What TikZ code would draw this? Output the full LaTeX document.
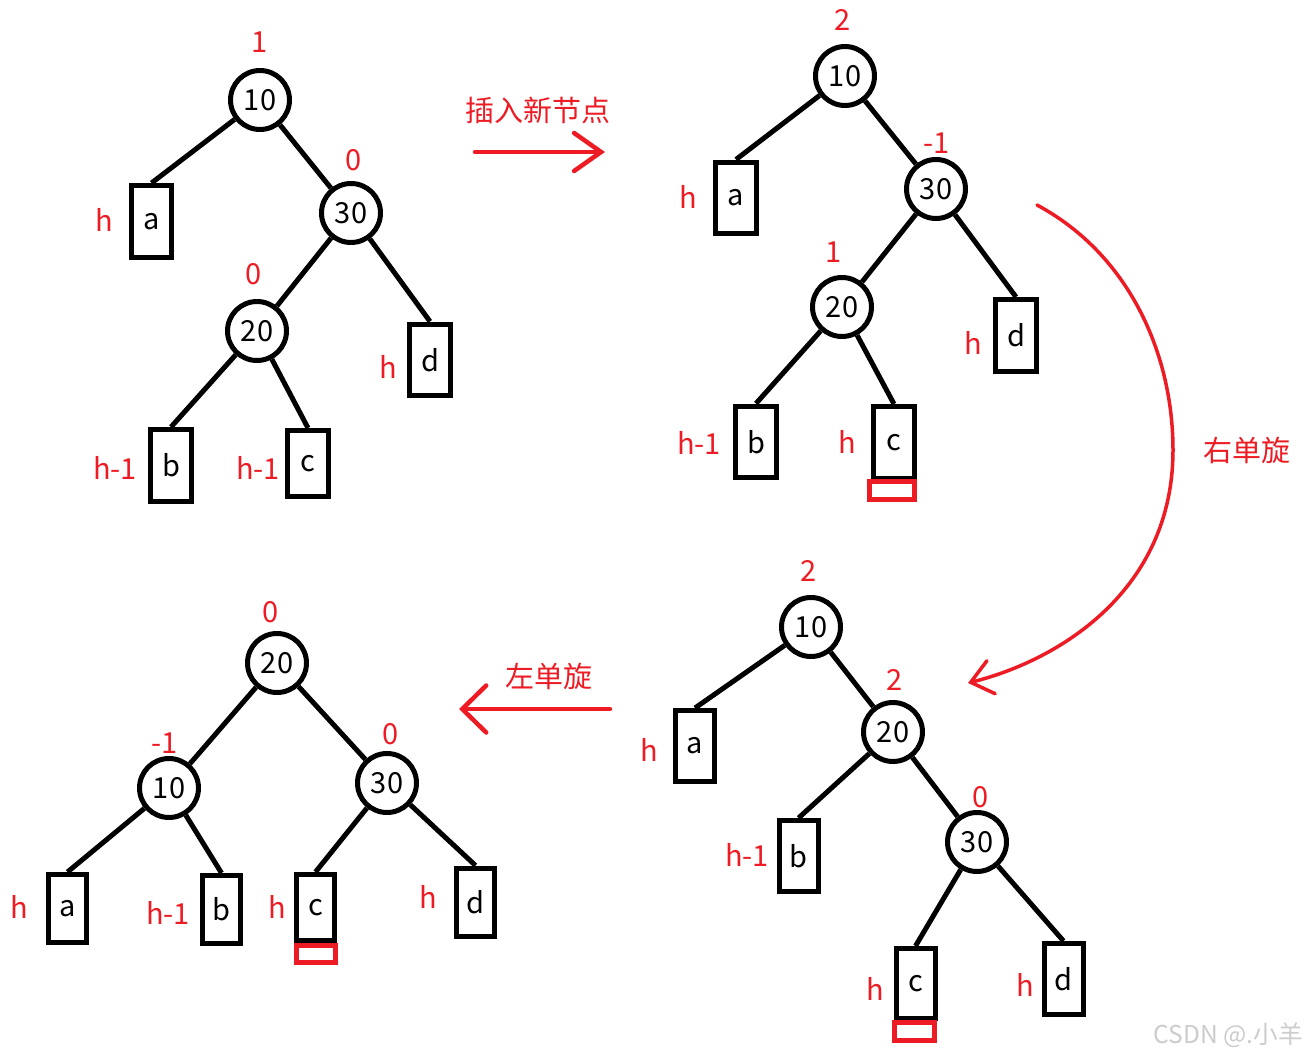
\documentclass[tikz,border=0pt]{standalone}
\usepackage{fontspec}
\setmainfont{Noto Sans CJK SC}
\usetikzlibrary{arrows.meta}
\definecolor{hred}{RGB}{237,28,36}
\tikzset{
  keynode/.style={
    shape = circle,
    draw,
    fill = white,
    line width = 0.1cm,
    minimum size = 1.18cm,
    inner sep = 0pt
  },
}
\tikzset{
  subtree/.style={
    shape = rectangle,
    draw,
    line width = 0.1cm,
    minimum width = 0.82cm,
    minimum height = 1.44cm,
    inner sep = 0pt
  },
}
\tikzset{
  added/.style={
    shape = rectangle,
    draw = hred,
    line width = 0.1cm,
    minimum width = 0.82cm,
    minimum height = 0.36cm,
    inner sep = 0pt
  },
  every picture/.style = {
    font=\fontsize{16.5}{19}\selectfont
  },
  bal/.style={
    text = hred,
    inner sep = 0pt
  },
  hgt/.style={
    text = hred,
    inner sep = 0pt
  },
  branch/.style={
    line width = 0.1cm
  },
  turn/.style={
    draw = hred,
    line width = 0.09cm,
    line cap = round
  }
}

\begin{document}
\begin{tikzpicture}[x=0.02cm, y=-0.02cm]
        \useasboundingbox (0,0) rectangle (1309,1058);

        % before insertion
        \node[keynode] (p10) at (260,100) {10};
        \node[keynode] (p30) at (351,213) {30};
        \node[keynode] (p20) at (257,331) {20};
        \node[subtree] (pa) at (151.5,221.5) {a};
        \node[subtree] (pb) at (171,465.5) {b};
        \node[subtree, minimum height=1.32cm] (pc) at (308,463.5) {c};
        \node[subtree] (pd) at (430,360) {d};
        \draw[branch] (p10) -- (pa.north);
        \draw[branch] (p10) -- (p30);
        \draw[branch] (p30) -- (p20);
        \draw[branch] (p30) -- (pd.north);
        \draw[branch] (p20) -- (pb.north);
        \draw[branch] (p20) -- (pc.north);
        \node[bal] (pf10) at (260,42) {1};
        \node[bal] (pf30) at (354,160) {0};
        \node[bal] (pf20) at (254,274) {0};
        \node[hgt] (pha) at (104,220) {h};
        \node[hgt] (phb) at (115,468) {h-1};
        \node[hgt] (phc) at (258,468) {h-1};
        \node[hgt] (phd) at (388,367) {h};

        % insert
        \node[text=hred] (instxt) at (538,110) {插入新节点};
        \coordinate (insL) at (475,152);
        \coordinate (insR) at (605,152);
        \draw[turn, -{Straight Barb[length=0.54cm, width=0.76cm, line cap=round]}] (insL) -- (insR);

        % after insertion
        \node[keynode] (q10) at (845,76) {10};
        \node[keynode] (q30) at (936,189) {30};
        \node[keynode] (q20) at (842,307) {20};
        \node[subtree] (qa) at (736,198) {a};
        \node[subtree] (qb) at (756,442) {b};
        \node[subtree] (qc) at (894,442.5) {c};
        \node[subtree] (qd) at (1016,335.5) {d};
        \node[added, minimum width=0.9cm] (qnew) at (892,490.5) {};
        \draw[branch] (q10) -- (qa.north);
        \draw[branch] (q10) -- (q30);
        \draw[branch] (q30) -- (q20);
        \draw[branch] (q30) -- (qd.north);
        \draw[branch] (q20) -- (qb.north);
        \draw[branch] (q20) -- (qc.north);
        \node[bal] (qf10) at (843,20) {2};
        \node[bal] (qf30) at (937,143) {-1};
        \node[bal] (qf20) at (834,252) {1};
        \node[hgt] (qha) at (688,197) {h};
        \node[hgt] (qhb) at (699,443) {h-1};
        \node[hgt] (qhc) at (847,442) {h};
        \node[hgt] (qhd) at (973,343) {h};

        % right rotation
        \node[text=hred] (rtxt) at (1247,450) {右单旋};
        \coordinate (rotA) at (1037,205);
        \coordinate (rotB) at (968,683);
        \draw[turn, line width=0.07cm, -{Straight Barb[length=0.42cm, width=0.68cm, line cap=round]}] (rotA) .. controls (1130,255) and (1173,355) .. (1173,450) .. controls (1173,590) and (1060,660) .. (rotB);

        % after right rotation
        \node[keynode] (r10) at (811,627) {10};
        \node[keynode] (r20) at (893,732) {20};
        \node[keynode] (r30) at (977,842) {30};
        \node[subtree, minimum width=0.78cm, minimum height=1.42cm] (ra) at (695,746) {a};
        \node[subtree, minimum width=0.78cm, minimum height=1.42cm] (rb) at (798.5,856) {b};
        \node[subtree, minimum width=0.78cm, minimum height=1.40cm] (rc) at (915.5,983.5) {c};
        \node[subtree, minimum width=0.78cm, minimum height=1.42cm] (rd) at (1063.5,979) {d};
        \node[added, minimum width=0.8cm] (rnew) at (914.5,1031.5) {};
        \draw[branch] (r10) -- (ra.north);
        \draw[branch] (r10) -- (r20);
        \draw[branch] (r20) -- (rb.north);
        \draw[branch] (r20) -- (r30);
        \draw[branch] (r30) -- (rc.north);
        \draw[branch] (r30) -- (rd.north);
        \node[bal] (rf10) at (809,571) {2};
        \node[bal] (rf20) at (895,680) {2};
        \node[bal] (rf30) at (981,797) {0};
        \node[hgt] (rha) at (649,750) {h};
        \node[hgt] (rhb) at (747,855) {h-1};
        \node[hgt] (rhc) at (875,989) {h};
        \node[hgt] (rhd) at (1025,985) {h};

        % left rotation
        \node[text=hred] (ltxt) at (549,676) {左单旋};
        \coordinate (lotA) at (610,709);
        \coordinate (lotB) at (459,709);
        \draw[turn, -{Straight Barb[length=0.48cm, width=0.94cm, line cap=round]}] (lotA) -- (lotB);

        % balanced
        \node[keynode] (s20) at (277,663) {20};
        \node[keynode] (s10) at (169,788) {10};
        \node[keynode] (s30) at (387,783) {30};
        \node[subtree, minimum width=0.76cm, minimum height=1.36cm] (sa) at (67.5,908.5) {a};
        \node[subtree, minimum width=0.76cm, minimum height=1.36cm] (sb) at (221.5,909.5) {b};
        \node[subtree, minimum width=0.76cm, minimum height=1.32cm] (sc) at (315.5,907.5) {c};
        \node[subtree, minimum width=0.76cm, minimum height=1.36cm] (sd) at (475.5,902) {d};
        \node[added, minimum width=0.78cm, minimum height=0.34cm] (snew) at (316,954) {};
        \draw[branch] (s20) -- (s10);
        \draw[branch] (s20) -- (s30);
        \draw[branch] (s10) -- (sa.north);
        \draw[branch] (s10) -- (sb.north);
        \draw[branch] (s30) -- (sc.north);
        \draw[branch] (s30) -- (sd.north);
        \node[bal] (sf20) at (271,612) {0};
        \node[bal] (sf10) at (165,743) {-1};
        \node[bal] (sf30) at (391,734) {0};
        \node[hgt] (sha) at (19,907) {h};
        \node[hgt] (shb) at (168,913) {h-1};
        \node[hgt] (shc) at (277,907) {h};
        \node[hgt] (shd) at (428,897) {h};

        \node[text=gray!40, font=\fontsize{14}{16}\selectfont] (mark) at (1228,1035) {CSDN @.小羊};
\end{tikzpicture}
\end{document}
